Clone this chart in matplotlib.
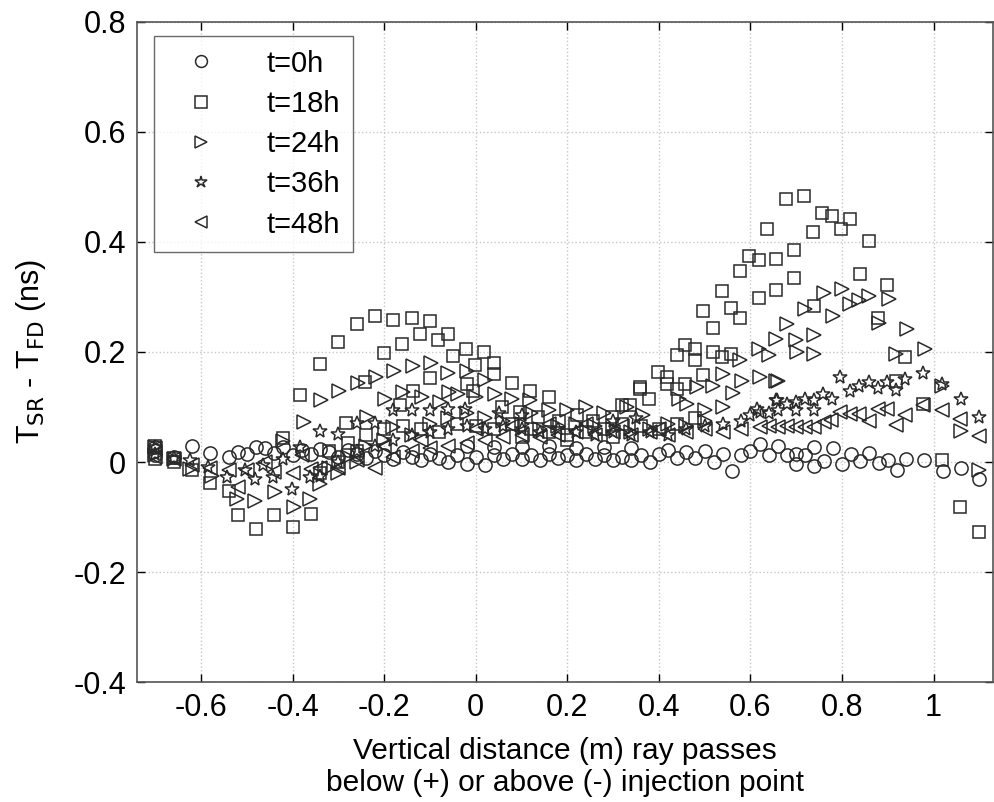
import matplotlib
matplotlib.use("Agg")
import matplotlib.pyplot as plt
from matplotlib.ticker import FixedLocator, FixedFormatter

plt.rcParams['font.family'] = ['Liberation Sans', 'DejaVu Sans']

labels = ["t=0h", "t=18h", "t=24h", "t=36h", "t=48h"]
markers = ["o", "s", ">", "*", "<"]

t0_x = [-0.70, -0.70, -0.66, -0.62, -0.58, -0.54, -0.52, -0.50, -0.48, -0.46, -0.44, -0.42, -0.40, -0.38,
        -0.36, -0.34, -0.32, -0.30, -0.28, -0.26, -0.24, -0.22, -0.20, -0.18, -0.16, -0.14, -0.12, -0.10,
        -0.08, -0.06, -0.04, -0.02, 0.00, 0.02, 0.04, 0.06, 0.08, 0.10, 0.12, 0.14, 0.16, 0.18, 0.20, 0.22,
        0.24, 0.26, 0.28, 0.30, 0.32, 0.34, 0.36, 0.38, 0.40, 0.42, 0.44, 0.46, 0.48, 0.50, 0.52, 0.54,
        0.56, 0.58, 0.60, 0.62, 0.64, 0.66, 0.68, 0.70, 0.70, 0.72, 0.74, 0.74, 0.76, 0.78, 0.80, 0.82,
        0.84, 0.86, 0.88, 0.90, 0.92, 0.94, 0.98, 1.02, 1.06, 1.10,
        -0.02, 0.04, 0.10, 0.16, 0.22, 0.28, 0.34]
t0_y = [0.028, 0.012, 0.010, 0.030, 0.016, 0.010, 0.018, 0.015, 0.028, 0.025, 0.016, 0.028, 0.012, 0.021,
        0.015, 0.024, 0.018, 0.010, 0.022, 0.015, 0.008, 0.020, 0.012, 0.006, 0.018, 0.010, 0.003, 0.015,
        0.008, 0.000, 0.012, -0.003, 0.010, -0.006, 0.012, 0.005, 0.015, 0.005, 0.012, 0.004, 0.014, 0.008,
        0.012, 0.004, 0.014, 0.006, 0.012, 0.004, 0.010, 0.003, 0.012, 0.000, 0.015, 0.022, 0.008, 0.018,
        0.008, 0.020, 0.000, 0.015, -0.016, 0.012, 0.020, 0.033, 0.012, 0.030, 0.012, 0.015, -0.003, 0.012,
        0.027, -0.007, 0.002, 0.025, -0.003, 0.014, 0.002, 0.016, -0.002, 0.003, -0.014, 0.006, 0.003,
        -0.016, -0.010, -0.031,
        0.030, 0.028, 0.027, 0.030, 0.025, 0.028, 0.025]

t18_x = [-0.70, -0.70, -0.66, -0.66, -0.62, -0.58, -0.54, -0.52, -0.48, -0.44, -0.40, -0.36, -0.42, -0.384,
         -0.34, -0.30, -0.26, -0.22, -0.18, -0.14, -0.10, -0.06, -0.082, -0.122, -0.162, -0.20, -0.242, -0.10,
         -0.049, -0.022, -0.002, -0.283, -0.165, -0.136, -0.02, -0.005, 0.019, 0.039, 0.039, 0.079, 0.119,
         0.159, 0.057, 0.097, 0.137, 0.181, 0.221, 0.257, 0.297, 0.319, 0.337, 0.359, 0.379, 0.399, 0.417,
         0.417, 0.439, 0.457, 0.478, 0.478, 0.497, 0.518, 0.538, 0.558, 0.578, 0.578, 0.597, 0.618, 0.618,
         0.637, 0.656, 0.656, 0.519, 0.538, 0.558, 0.457, 0.497, 0.678, 0.718, 0.737, 0.756, 0.778, 0.817,
         0.797, 0.696, 0.696, 0.858, 0.839, 0.898, 0.738, 0.878, 0.938, 0.919, 0.978, 1.019, 1.057, 1.099,
         -0.32, -0.28, -0.24, -0.20, -0.16, -0.12, -0.08, -0.04, 0.00, 0.04, 0.08, 0.12, 0.16, 0.20, 0.24,
         0.28, 0.32, 0.36, 0.40, 0.44, 0.48, 0.10, 0.20, 0.30, -0.34, -0.30, -0.26, 0.439, 0.359]
t18_y = [0.030, 0.006, 0.008, 0.000, -0.014, -0.039, -0.052, -0.097, -0.121, -0.097, -0.119, -0.094, 0.044,
         0.121, 0.178, 0.218, 0.250, 0.266, 0.259, 0.262, 0.257, 0.233, 0.222, 0.232, 0.214, 0.199, 0.145,
         0.153, 0.192, 0.206, 0.177, 0.071, 0.103, 0.130, 0.142, 0.130, 0.200, 0.180, 0.160, 0.143, 0.129,
         0.118, 0.100, 0.091, 0.081, 0.075, 0.085, 0.075, 0.081, 0.103, 0.103, 0.133, 0.115, 0.163, 0.154,
         0.142, 0.194, 0.212, 0.206, 0.185, 0.275, 0.243, 0.310, 0.280, 0.347, 0.261, 0.375, 0.368, 0.299,
         0.423, 0.369, 0.313, 0.200, 0.190, 0.197, 0.141, 0.159, 0.479, 0.483, 0.419, 0.453, 0.448, 0.441,
         0.424, 0.385, 0.335, 0.401, 0.342, 0.321, 0.284, 0.262, 0.190, 0.148, 0.106, 0.004, -0.081, -0.128,
         0.020, 0.035, 0.050, 0.060, 0.065, 0.060, 0.055, 0.070, 0.065, 0.060, 0.070, 0.060, 0.055, 0.050,
         0.055, 0.060, 0.070, 0.065, 0.060, 0.070, 0.080, 0.045, 0.040, 0.045, -0.020, 0.000, 0.020, 0.133,
         0.136]

t24_x = [-0.70, -0.70, -0.66, -0.624, -0.576, -0.522, -0.482, -0.438, -0.398, -0.362, -0.42, -0.376, -0.338,
         -0.298, -0.258, -0.218, -0.178, -0.138, -0.098, -0.060, -0.058, -0.198, -0.158, -0.118, -0.078,
         -0.238, -0.180, -0.020, 0.020, -0.038, 0.001, 0.041, 0.079, 0.119, 0.159, 0.199, 0.330, 0.366,
         0.443, 0.461, 0.483, 0.501, 0.519, 0.541, 0.541, 0.562, 0.578, 0.581, 0.618, 0.620, 0.640, 0.656,
         0.656, 0.702, 0.738, 0.661, 0.680, 0.700, 0.738, 0.720, 0.760, 0.780, 0.800, 0.818, 0.838, 0.858,
         0.902, 0.880, 0.917, 0.942, 0.982, 1.019, 1.059, 1.099,
         -0.32, -0.28, -0.24, -0.20, -0.14, -0.10, -0.06, -0.02, 0.02, 0.06, 0.10, 0.14, 0.18, 0.22, 0.26,
         0.30, 0.34, 0.38, 0.42, 0.46, 0.50, 0.24, 0.28, 0.12, -0.34, -0.30, -0.26]
t24_y = [0.028, 0.012, 0.005, -0.012, -0.025, -0.067, -0.070, -0.055, -0.082, -0.067, 0.039, 0.072, 0.112,
         0.129, 0.143, 0.154, 0.166, 0.174, 0.180, 0.161, 0.127, 0.114, 0.127, 0.119, 0.109, 0.082, 0.063,
         0.166, 0.149, 0.124, 0.119, 0.124, 0.115, 0.112, 0.095, 0.095, 0.100, 0.085, 0.115, 0.105, 0.136,
         0.094, 0.139, 0.160, 0.100, 0.125, 0.185, 0.147, 0.206, 0.154, 0.194, 0.224, 0.148, 0.200, 0.197,
         0.148, 0.250, 0.221, 0.230, 0.279, 0.307, 0.266, 0.315, 0.288, 0.295, 0.301, 0.297, 0.252, 0.197,
         0.242, 0.205, 0.139, 0.057, -0.015,
         -0.010, 0.010, 0.030, 0.040, 0.050, 0.070, 0.080, 0.090, 0.080, 0.075, 0.070, 0.060, 0.065, 0.070,
         0.065, 0.060, 0.055, 0.060, 0.070, 0.065, 0.075, 0.100, 0.090, 0.090, -0.040, -0.020, 0.000]

t36_x = [-0.70, -0.70, -0.66, -0.624, -0.584, -0.544, -0.504, -0.482, -0.464, -0.442, -0.420, -0.402, -0.384,
         -0.362, -0.34, -0.30, -0.26, -0.22, -0.18, -0.14, -0.10, -0.06, -0.023, -0.34, -0.30, -0.26, -0.22,
         -0.18, -0.14, -0.10, -0.06, -0.02, 0.02, 0.06, 0.10, 0.14, 0.18, 0.22, 0.26, 0.30, 0.34, 0.38, 0.42,
         0.46, 0.50, 0.54, 0.58, 0.614, 0.658, 0.68, 0.70, 0.72, 0.738, 0.60, 0.64, 0.656, 0.758, 0.778,
         0.796, 0.817, 0.838, 0.858, 0.878, 0.898, 0.917, 0.938, 0.978, 1.019, 1.059, 1.099, 0.738, 0.70,
         0.66, 0.62, 0.05, 0.10, 0.30, 0.35]
t36_y = [0.028, 0.015, 0.008, 0.003, -0.009, -0.028, -0.015, -0.030, -0.006, -0.028, 0.006, -0.049, 0.027,
         -0.028, 0.056, 0.051, 0.071, 0.071, 0.094, 0.094, 0.094, 0.097, 0.097, -0.025, 0.000, 0.020, 0.030,
         0.040, 0.050, 0.055, 0.060, 0.065, 0.060, 0.065, 0.060, 0.055, 0.060, 0.055, 0.050, 0.055, 0.050,
         0.055, 0.050, 0.060, 0.065, 0.070, 0.075, 0.097, 0.112, 0.105, 0.110, 0.115, 0.112, 0.085, 0.090,
         0.113, 0.123, 0.115, 0.154, 0.130, 0.139, 0.145, 0.135, 0.145, 0.131, 0.151, 0.161, 0.142, 0.115,
         0.081, 0.095, 0.095, 0.095, 0.091, 0.090, 0.085, 0.075, 0.080]

t48_x = [-0.70, -0.70, -0.66, -0.62, -0.58, -0.54, -0.52, -0.50, -0.46, -0.44, -0.40, -0.38, -0.36, -0.34,
         -0.30, -0.26, -0.22, -0.18, -0.14, -0.10, -0.06, -0.02, 0.02, 0.06, 0.10, 0.14, 0.18, 0.22, 0.26,
         0.30, 0.34, 0.38, 0.42, 0.46, 0.50, 0.54, 0.58, 0.621, 0.64, 0.66, 0.68, 0.70, 0.72, 0.738, 0.76,
         0.777, 0.796, 0.817, 0.838, 0.858, 0.878, 0.898, 0.919, 0.938, 0.978, 1.019, 1.057, 1.099,
         -0.20, -0.12, 0.00, 0.08, 0.16, 0.24, 0.32, 0.40]
t48_y = [0.025, 0.010, 0.005, -0.005, -0.010, -0.015, -0.046, -0.015, 0.000, -0.018, -0.020, 0.012, -0.012,
         -0.010, -0.010, 0.004, -0.010, 0.010, 0.020, 0.025, 0.030, 0.035, 0.040, 0.045, 0.050, 0.045, 0.050,
         0.055, 0.050, 0.055, 0.050, 0.055, 0.050, 0.055, 0.060, 0.055, 0.060, 0.063, 0.065, 0.064, 0.065,
         0.063, 0.064, 0.063, 0.072, 0.077, 0.091, 0.088, 0.088, 0.075, 0.097, 0.097, 0.068, 0.085, 0.103,
         0.095, 0.079, 0.048,
         0.030, 0.040, 0.060, 0.065, 0.070, 0.070, 0.065, 0.060]

series_x = [t0_x, t18_x, t24_x, t36_x, t48_x]
series_y = [t0_y, t18_y, t24_y, t36_y, t48_y]
sizes = [9.5, 9, 10, 10, 10]

xticks = [-0.6, -0.4, -0.2, 0, 0.2, 0.4, 0.6, 0.8, 1]
xticklabels = ["-0.6", "-0.4", "-0.2", "0", "0.2", "0.4", "0.6", "0.8", "1"]
yticks = [-0.4, -0.2, 0, 0.2, 0.4, 0.6, 0.8]
yticklabels = ["-0.4", "-0.2", "0", "0.2", "0.4", "0.6", "0.8"]

fig = plt.figure(figsize=(9.95, 8.02), dpi=100)
ax = fig.add_axes([0.1377, 0.1496, 0.8603, 0.823])

edge = "#2a2a2a"
for xs, ys, m, lab, ms in zip(series_x, series_y, markers, labels, sizes):
    ax.plot(xs, ys, linestyle="none", marker=m, markersize=ms, markerfacecolor="none",
            markeredgecolor=edge, markeredgewidth=1.1, label=lab)

ax.set_xlim(-0.74, 1.13)
ax.set_ylim(-0.4, 0.8)
ax.xaxis.set_major_locator(FixedLocator(xticks))
ax.xaxis.set_major_formatter(FixedFormatter(xticklabels))
ax.yaxis.set_major_locator(FixedLocator(yticks))
ax.yaxis.set_major_formatter(FixedFormatter(yticklabels))
ax.tick_params(direction="in", top=True, right=True, length=6, width=1, labelsize=22, colors="black",
               pad=8)
ax.grid(True, linestyle=":", color="#c8c8c8", linewidth=1)
for s in ax.spines.values():
    s.set_color("#555555")
    s.set_linewidth(1.2)

ax.set_xlabel("Vertical distance (m) ray passes\nbelow (+) or above (-) injection point", fontsize=21.5,
              linespacing=1.2, labelpad=10)
ax.set_ylabel(r"T$_{\mathrm{SR}}$ - T$_{\mathrm{FD}}$ (ns)", fontsize=22, labelpad=18)

leg = ax.legend(loc="upper left", bbox_to_anchor=(0.02, 0.978), borderaxespad=0, fontsize=21,
                markerscale=0.9, frameon=True, fancybox=False, edgecolor="#444444",
                labelspacing=0.42, handletextpad=1.1, borderpad=0.45, handlelength=2.3)
leg.get_frame().set_linewidth(1.0)

fig.savefig("out.png", dpi=100)
